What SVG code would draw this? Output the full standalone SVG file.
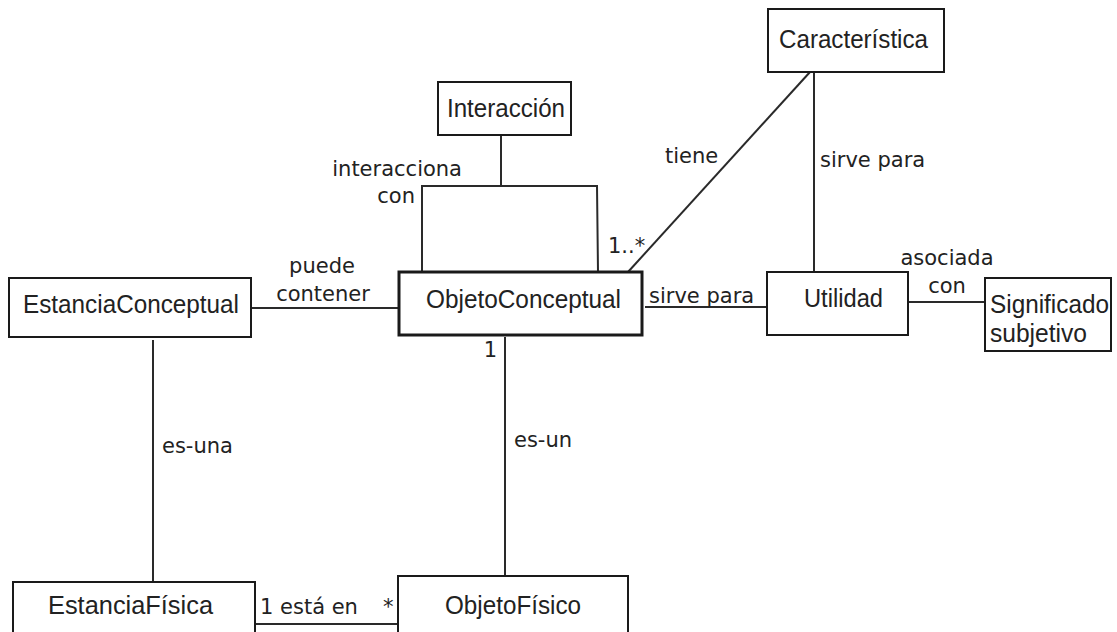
<svg xmlns="http://www.w3.org/2000/svg" width="1117" height="632" viewBox="0 0 1117 632">
<style>
.box{fill:#fff;stroke:#1a1a1a;stroke-width:2}
.thick{stroke-width:3}
.nt{font-family:"Liberation Sans",Arial,sans-serif;font-size:25px;fill:#222}
.lb{font-family:"DejaVu Sans",Verdana,sans-serif;font-size:21px;fill:#222}
.ln{stroke:#2a2a2a;stroke-width:2;fill:none}
</style>
<rect width="1117" height="632" fill="#fff"/>
<g id="connectors">
<line class="ln" x1="251" y1="308" x2="400" y2="308"/>
<line class="ln" x1="645" y1="307" x2="767" y2="307"/>
<line class="ln" x1="908" y1="302" x2="985" y2="302"/>
<line class="ln" x1="814" y1="72" x2="814" y2="272"/>
<line class="ln" x1="628" y1="272" x2="810" y2="72"/>
<polyline class="ln" points="422,272 422,186 597,186 598,272"/>
<line class="ln" x1="501" y1="135" x2="501" y2="186"/>
<line class="ln" x1="153" y1="340" x2="153" y2="582"/>
<line class="ln" x1="505" y1="337" x2="505" y2="576"/>
<line class="ln" x1="255" y1="624" x2="398" y2="624"/>
<text class="lb" x="322" y="273" text-anchor="middle">puede</text>
<text class="lb" x="323" y="301" text-anchor="middle">contener</text>
<text class="lb" x="462" y="176" text-anchor="end">interacciona</text>
<text class="lb" x="415" y="203" text-anchor="end">con</text>
<text class="lb" x="665" y="163">tiene</text>
<text class="lb" x="608" y="253">1..*</text>
<text class="lb" x="820" y="167">sirve para</text>
<text class="lb" x="649" y="303">sirve para</text>
<text class="lb" x="947" y="265" text-anchor="middle">asociada</text>
<text class="lb" x="947" y="293" text-anchor="middle">con</text>
<text class="lb" x="497" y="357" text-anchor="end">1</text>
<text class="lb" x="514" y="447">es-un</text>
<text class="lb" x="162" y="453">es-una</text>
<text class="lb" x="260" y="614">1 está en</text>
<text class="lb" x="383" y="614">*</text>
</g>
<g id="EstanciaConceptual">
<rect class="box" x="9" y="278" width="242" height="59"/>
<text class="nt" x="23" y="313" textLength="216" lengthAdjust="spacingAndGlyphs">EstanciaConceptual</text>
</g>
<g id="ObjetoConceptual">
<rect class="box thick" x="399" y="272" width="243" height="63"/>
<text class="nt" x="426" y="308" textLength="195" lengthAdjust="spacingAndGlyphs">ObjetoConceptual</text>
</g>
<g id="Interaccion">
<rect class="box" x="438" y="82" width="133" height="53"/>
<text class="nt" x="447" y="117" textLength="118" lengthAdjust="spacingAndGlyphs">Interacción</text>
</g>
<g id="Caracteristica">
<rect class="box" x="768" y="9" width="176" height="63"/>
<text class="nt" x="779" y="48" textLength="149" lengthAdjust="spacingAndGlyphs">Característica</text>
</g>
<g id="Utilidad">
<rect class="box" x="767" y="272" width="141" height="63"/>
<text class="nt" x="804" y="307" textLength="79" lengthAdjust="spacingAndGlyphs">Utilidad</text>
</g>
<g id="SignificadoSubjetivo">
<rect class="box" x="985" y="278" width="126" height="73"/>
<text class="nt" x="990" y="313" textLength="119" lengthAdjust="spacingAndGlyphs">Significado</text>
<text class="nt" x="990" y="342" textLength="97" lengthAdjust="spacingAndGlyphs">subjetivo</text>
</g>
<g id="EstanciaFisica">
<rect class="box" x="13" y="582" width="242" height="60"/>
<text class="nt" x="48" y="614" textLength="165" lengthAdjust="spacingAndGlyphs">EstanciaFísica</text>
</g>
<g id="ObjetoFisico">
<rect class="box" x="398" y="576" width="230" height="66"/>
<text class="nt" x="445" y="614" textLength="136" lengthAdjust="spacingAndGlyphs">ObjetoFísico</text>
</g>
</svg>
